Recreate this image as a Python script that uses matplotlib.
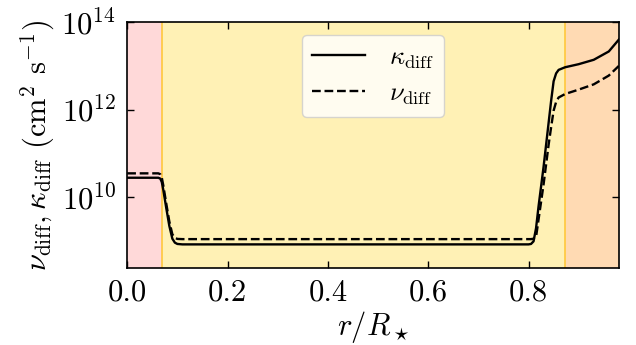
import matplotlib
matplotlib.use('Agg')
import matplotlib.pyplot as plt
import numpy as np

# radius (r/R_star) and log10 of diffusivities
r = [0.0, 0.03, 0.062, 0.066, 0.069, 0.072, 0.078, 0.084, 0.09, 0.095, 0.1, 0.11,
     0.3, 0.5, 0.7, 0.8, 0.805, 0.81, 0.815, 0.82, 0.83, 0.84, 0.845,
     0.85, 0.855, 0.86, 0.873, 0.9, 0.93, 0.96, 0.98]
log_kappa = [10.45, 10.45, 10.45, 10.43, 10.35, 10.17, 9.75, 9.35, 9.06, 8.97, 8.94, 8.93,
             8.93, 8.93, 8.93, 8.93, 8.94, 9.0, 9.3, 9.8, 10.7, 11.7, 12.2,
             12.65, 12.83, 12.91, 12.97, 13.04, 13.14, 13.33, 13.6]
log_nu = [10.55, 10.55, 10.55, 10.53, 10.45, 10.27, 9.85, 9.45, 9.16, 9.08, 9.055, 9.05,
          9.05, 9.05, 9.05, 9.05, 9.05, 9.06, 9.1, 9.5, 10.3, 11.2, 11.6,
          11.98, 12.18, 12.28, 12.36, 12.46, 12.58, 12.78, 13.0]

# zone boundaries
r_core = 0.07
r_env = 0.873
r_max = 0.98

plt.rcParams.update({'font.size': 22,
                     'font.family': 'serif',
                     'font.serif': ['cmr10', 'DejaVu Serif'],
                     'mathtext.fontset': 'cm',
                     'axes.formatter.use_mathtext': True,
                     'axes.unicode_minus': False})

fig = plt.figure(figsize=(6.36, 3.45), dpi=100)
ax = fig.add_axes([0.2, 0.223, 0.773, 0.713])

ax.axvspan(0, r_core, color='#ffd9d9', lw=0, zorder=0)
ax.axvspan(r_core, r_env, color='#fff1b5', lw=0, zorder=0)
ax.axvspan(r_env, r_max, color='#ffdab3', lw=0, zorder=0)
ax.axvline(r_core, color='#ffc83c', lw=1.2, zorder=1)
ax.axvline(r_env, color='#ffc83c', lw=1.2, zorder=1)

ax.plot(r, 10**np.array(log_kappa), color='black', lw=1.7, label=r'$\kappa_{\rm diff}$')
ax.plot(r, 10**np.array(log_nu), color='black', lw=1.7, ls='--', label=r'$\nu_{\rm diff}$')

ax.set_yscale('log')
ax.set_xlim(0, r_max)
ax.set_ylim(10**8.39, 1e14)
ax.set_yticks([1e10, 1e12, 1e14])
ax.minorticks_off()
ax.set_xticks([0.0, 0.2, 0.4, 0.6, 0.8])
ax.set_xticklabels(['0.0', '0.2', '0.4', '0.6', '0.8'])
ax.tick_params(direction='in', length=5, width=1, top=True, right=True, pad=8)
for s in ax.spines.values():
    s.set_linewidth(1.2)

ax.set_xlabel(r'$r/R_\star$', labelpad=2)
ax.set_ylabel(r'$\nu_{\rm diff}, \kappa_{\rm diff}$ (cm$^2$ s$^{-1}$)', labelpad=3)

leg = ax.legend(loc='upper center', bbox_to_anchor=(0.5, 0.947), borderaxespad=0,
                fontsize=19, handlelength=2.0, handletextpad=0.9, labelspacing=0.4,
                fancybox=True, framealpha=0.8, facecolor='white', edgecolor='#cccccc')

plt.savefig('out.png', dpi=100)
